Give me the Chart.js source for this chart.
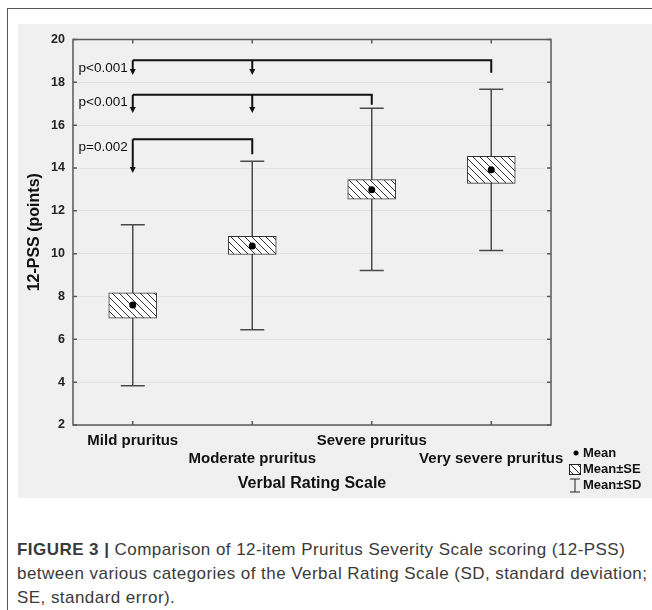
<!DOCTYPE html>
<html>
<head>
<meta charset="utf-8">
<script src="https://cdn.jsdelivr.net/npm/chart.js@4/dist/chart.umd.min.js"></script>
<style>
  body { margin: 0; width: 652px; height: 610px; overflow: hidden; position: relative; background: #fff;
         font-family: 'Liberation Sans', Arial, sans-serif; }
  #cadre { position: absolute; left: 7px; top: 8px; width: 700px; height: 700px; border: 1px solid #555; box-sizing: border-box; }
  #graphique { position: absolute; left: 18px; top: 24px; background: #f0f0f0; }
  #legende { position: absolute; left: 17px; top: 538px; white-space: nowrap; font-size: 17px; letter-spacing: 0.45px;
             line-height: 24px; color: #3a3a3a; }
</style>
</head>
<body>
<div id="cadre"></div>
<canvas id="graphique" width="634" height="474"></canvas>
<div id="legende"><b>FIGURE 3 |</b> Comparison of 12-item Pruritus Severity Scale scoring (12-PSS)<br>between various categories of the Verbal Rating Scale (SD, standard deviation;<br>SE, standard error).</div>

<script>
// Catégories et valeurs
const categories = ['Mild pruritus', 'Moderate pruritus', 'Severe pruritus', 'Very severe pruritus'];
const meanValues = [7.6, 10.36, 12.98, 13.92];
const seLow = [6.99, 9.96, 12.54, 13.28];
const seHigh = [8.17, 10.81, 13.46, 14.54];
const sdLow = [3.83, 6.45, 9.21, 10.15];
const sdHigh = [11.35, 14.31, 16.79, 17.68];

// Crochets de comparaison (p-values)
const bracketLevel = [19.03, 17.42, 15.34];
const bracketTo = [3, 2, 1];
const bracketEnd = [18.45, 16.95, 14.64];
const arrowTips = [18.34, 16.57, 13.77];
const arrowCats = [[0, 1], [0, 1], [0]];
const pLabels = ['p<0.001', 'p<0.001', 'p=0.002'];
const pLabelY = [18.65, 17.08, 14.99];

const legendLabels = ['Mean', 'Mean±SE', 'Mean±SD'];

const police = "'Liberation Sans', Arial, sans-serif";

// Motif hachuré pour les boîtes Mean±SE
function creerMotif(ctx) {
  const taille = 7;
  const c = document.createElement('canvas');
  c.width = taille;
  c.height = taille;
  const g = c.getContext('2d');
  g.fillStyle = '#fff';
  g.fillRect(0, 0, taille, taille);
  g.strokeStyle = '#333';
  g.lineWidth = 1;
  g.beginPath();
  g.moveTo(0, 0); g.lineTo(taille, taille);
  g.moveTo(-1, taille - 1); g.lineTo(1, taille + 1);
  g.moveTo(taille - 1, -1); g.lineTo(taille + 1, 1);
  g.stroke();
  return ctx.createPattern(c, 'repeat');
}

const canvas = document.getElementById('graphique');
const motif = creerMotif(canvas.getContext('2d'));

// Moustaches Mean±SD, dessinées sous les boîtes
const ecartsTypes = {
  id: 'ecartsTypes',
  beforeDatasetsDraw(chart) {
    const { ctx, scales: { x, y } } = chart;
    ctx.save();
    ctx.strokeStyle = '#4a4a4a';
    ctx.lineWidth = 1.5;
    sdHigh.forEach((haut, i) => {
      const px = x.getPixelForValue(i);
      const yh = y.getPixelForValue(haut);
      const yb = y.getPixelForValue(sdLow[i]);
      ctx.beginPath();
      ctx.moveTo(px, yh); ctx.lineTo(px, yb);
      ctx.moveTo(px - 12, yh); ctx.lineTo(px + 12, yh);
      ctx.moveTo(px - 12, yb); ctx.lineTo(px + 12, yb);
      ctx.stroke();
    });
    ctx.restore();
  }
};

// Crochets avec flèches et p-values
const crochets = {
  id: 'crochets',
  afterDatasetsDraw(chart) {
    const { ctx, scales: { x, y } } = chart;
    ctx.save();
    ctx.strokeStyle = '#111';
    ctx.fillStyle = '#111';
    ctx.lineWidth = 2;
    bracketLevel.forEach((niveau, k) => {
      const yb = y.getPixelForValue(niveau);
      const x0 = x.getPixelForValue(0);
      const x1 = x.getPixelForValue(bracketTo[k]);
      ctx.beginPath();
      ctx.moveTo(x1, y.getPixelForValue(bracketEnd[k]));
      ctx.lineTo(x1, yb);
      ctx.lineTo(x0, yb);
      ctx.stroke();
      arrowCats[k].forEach((c) => {
        const px = x.getPixelForValue(c);
        const tip = y.getPixelForValue(arrowTips[k]);
        ctx.beginPath();
        ctx.moveTo(px, yb);
        ctx.lineTo(px, tip - 4);
        ctx.stroke();
        ctx.beginPath();
        ctx.moveTo(px - 3, tip - 6);
        ctx.lineTo(px + 3, tip - 6);
        ctx.lineTo(px, tip);
        ctx.closePath();
        ctx.fill();
      });
      ctx.font = '13.5px ' + police;
      ctx.textAlign = 'right';
      ctx.textBaseline = 'middle';
      ctx.fillText(pLabels[k], x0 - 5, y.getPixelForValue(pLabelY[k]));
    });
    ctx.restore();
  }
};

// Cadre du graphique avec graduations intérieures
const cadre = {
  id: 'cadre',
  afterDraw(chart) {
    const { ctx, chartArea: a, scales: { x, y } } = chart;
    ctx.save();
    ctx.strokeStyle = '#5a5a5a';
    ctx.lineWidth = 1.5;
    ctx.strokeRect(a.left, a.top, a.right - a.left, a.bottom - a.top);
    ctx.beginPath();
    y.ticks.forEach((t) => {
      const py = y.getPixelForValue(t.value);
      ctx.moveTo(a.left, py); ctx.lineTo(a.left + 4, py);
      ctx.moveTo(a.right, py); ctx.lineTo(a.right - 4, py);
    });
    categories.forEach((c, i) => {
      const px = x.getPixelForValue(i);
      ctx.moveTo(px, a.top); ctx.lineTo(px, a.top + 4);
      ctx.moveTo(px, a.bottom); ctx.lineTo(px, a.bottom - 4);
    });
    ctx.stroke();
    ctx.restore();
  }
};

// Légende en bas à droite
const legendeStats = {
  id: 'legendeStats',
  afterDraw(chart) {
    const { ctx, chartArea: a } = chart;
    const xs = a.right + 18;
    const xt = a.right + 32;
    const ys = [a.bottom + 28, a.bottom + 44, a.bottom + 60];
    ctx.save();
    ctx.fillStyle = '#000';
    ctx.beginPath();
    ctx.arc(xs + 7, ys[0], 2.5, 0, Math.PI * 2);
    ctx.fill();
    ctx.fillStyle = motif;
    ctx.fillRect(xs + 0.5, ys[1] - 4.5, 11, 10);
    ctx.strokeStyle = '#222';
    ctx.lineWidth = 1;
    ctx.strokeRect(xs + 0.5, ys[1] - 4.5, 11, 10);
    ctx.beginPath();
    ctx.moveTo(xs + 6, ys[2] - 6); ctx.lineTo(xs + 6, ys[2] + 7);
    ctx.moveTo(xs + 1, ys[2] - 6); ctx.lineTo(xs + 11, ys[2] - 6);
    ctx.moveTo(xs + 1, ys[2] + 7); ctx.lineTo(xs + 11, ys[2] + 7);
    ctx.stroke();
    ctx.fillStyle = '#111';
    ctx.font = 'bold 13px ' + police;
    ctx.textAlign = 'left';
    ctx.textBaseline = 'middle';
    legendLabels.forEach((t, i) => ctx.fillText(t, xt, ys[i]));
    ctx.restore();
  }
};

new Chart(canvas, {
  type: 'bar',
  data: {
    labels: categories.map((c, i) => (i % 2 ? ['', c] : c)),
    datasets: [
      {
        type: 'line',
        label: 'Mean',
        data: meanValues,
        showLine: false,
        pointRadius: 3.5,
        pointBackgroundColor: '#000',
        pointBorderColor: '#000',
        pointBorderWidth: 0,
        order: 0
      },
      {
        label: 'Mean±SE',
        data: seLow.map((b, i) => [b, seHigh[i]]),
        backgroundColor: motif,
        borderColor: '#333',
        borderWidth: 1,
        borderSkipped: false,
        barThickness: 48,
        order: 1
      }
    ]
  },
  options: {
    responsive: false,
    animation: false,
    layout: { padding: { top: 12, right: 101, left: 0, bottom: 0 } },
    plugins: { legend: { display: false }, tooltip: { enabled: false } },
    scales: {
      x: {
        grid: { display: false, drawTicks: false },
        border: { display: false },
        ticks: { color: '#111', padding: 7, autoSkip: false, maxRotation: 0, minRotation: 0,
                 font: { family: police, size: 15, weight: 'bold', lineHeight: 1.2 } },
        title: { display: true, text: 'Verbal Rating Scale', color: '#111', padding: { top: 0, bottom: 5 },
                 font: { family: police, size: 16, weight: 'bold', lineHeight: 1.2 } },
        afterFit: (s) => { s.height = 73; }
      },
      y: {
        min: 2,
        max: 20,
        ticks: { stepSize: 2, color: '#222', padding: 8, font: { family: police, size: 12.5, weight: 'bold' } },
        grid: { color: '#e2e2e2', drawTicks: false },
        border: { display: false },
        title: { display: true, text: '12-PSS (points)', color: '#111', padding: { top: 7, bottom: 0 },
                 font: { family: police, size: 16, weight: 'bold', lineHeight: 1.2 } },
        afterFit: (s) => { s.width = 55; }
      }
    }
  },
  plugins: [ecartsTypes, crochets, cadre, legendeStats]
});
</script>
</body>
</html>
